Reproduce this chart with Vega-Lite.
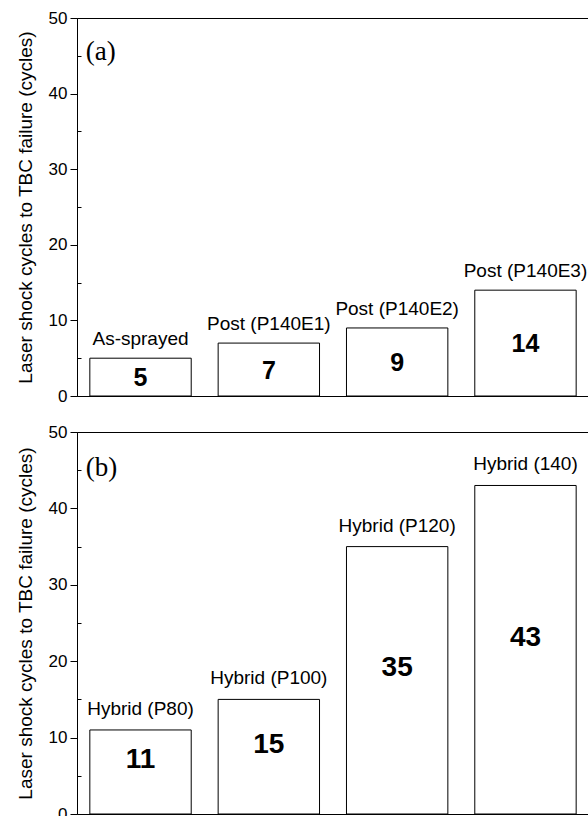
{
  "$schema": "https://vega.github.io/schema/vega-lite/v6.json",
  "padding": {"left": 15, "top": 8, "right": 0, "bottom": 0},
  "background": "white",
  "datasets": {
    "a": [
      {"treatment": "As-sprayed", "cycles": 5},
      {"treatment": "Post (P140E1)", "cycles": 7},
      {"treatment": "Post (P140E2)", "cycles": 9},
      {"treatment": "Post (P140E3)", "cycles": 14}
    ],
    "b": [
      {"treatment": "Hybrid (P80)", "cycles": 11},
      {"treatment": "Hybrid (P100)", "cycles": 15},
      {"treatment": "Hybrid (P120)", "cycles": 35},
      {"treatment": "Hybrid (140)", "cycles": 43}
    ],
    "pa": [{"panel": "(a)"}],
    "pb": [{"panel": "(b)"}]
  },
  "config": {
    "view": {"stroke": "black", "strokeWidth": 1},
    "font": "Liberation Sans",
    "axis": {
      "domainColor": "black",
      "tickColor": "black",
      "labelColor": "black",
      "titleColor": "black",
      "labelFontSize": 17,
      "titleFontSize": 19,
      "titleFontWeight": "normal",
      "grid": false,
      "labelFont": "Liberation Sans",
      "titleFont": "Liberation Sans"
    }
  },
  "spacing": 17,
  "vconcat": [
    {
      "width": 512,
      "height": 378,
      "resolve": {"scale": {"y": "independent"}, "axis": {"y": "independent"}},
      "layer": [
        {
          "data": {"name": "a"},
          "mark": {"type": "bar", "fill": "white", "stroke": "black", "strokeWidth": 1},
          "encoding": {
            "x": {"field": "treatment", "type": "nominal", "sort": null, "axis": null, "scale": {"paddingInner": 0.21, "paddingOuter": 0.1}},
            "y": {
              "field": "cycles", "type": "quantitative", "scale": {"domain": [0, 50]},
              "title": "Laser shock cycles to TBC failure (cycles)",
              "axis": {
                "orient": "left",
                "values": [0, 5, 10, 15, 20, 25, 30, 35, 40, 45, 50],
                "labelExpr": "datum.value % 10 === 0 ? datum.label : ''",
                "tickSize": {"condition": {"test": "datum.value % 10 === 0", "value": 7}, "value": -4},
                "labelPadding": 3,
                "titlePadding": 13
              }
            }
          }
        },
        {
          "data": {"name": "a"},
          "mark": {"type": "text", "baseline": "alphabetic", "dy": -13, "fontSize": 19, "color": "black"},
          "encoding": {
            "x": {"field": "treatment", "type": "nominal", "sort": null, "axis": null},
            "y": {"field": "cycles", "type": "quantitative", "scale": {"domain": [0, 50]}, "axis": null},
            "text": {"field": "treatment"}
          }
        },
        {
          "data": {"name": "a"},
          "mark": {"type": "text", "baseline": "middle", "fontSize": 25, "fontWeight": "bold", "color": "black", "dy": 1},
          "encoding": {
            "x": {"field": "treatment", "type": "nominal", "sort": null, "axis": null},
            "y": {"field": "cycles", "type": "quantitative", "scale": {"domain": [0, 100]}, "axis": null},
            "text": {"field": "cycles"}
          }
        },
        {
          "data": {"name": "pa"},
          "mark": {"type": "text", "font": "Liberation Serif", "fontSize": 27, "align": "left", "baseline": "middle", "color": "black", "dx": -4},
          "encoding": {
            "x": {"datum": "As-sprayed", "type": "nominal", "bandPosition": 0},
            "y": {"datum": 45.5, "type": "quantitative", "scale": {"domain": [0, 50]}, "axis": null},
            "text": {"field": "panel"}
          }
        }
      ]
    },
    {
      "width": 512,
      "height": 382,
      "resolve": {"scale": {"y": "independent"}, "axis": {"y": "independent"}},
      "layer": [
        {
          "data": {"name": "b"},
          "mark": {"type": "bar", "fill": "white", "stroke": "black", "strokeWidth": 1},
          "encoding": {
            "x": {"field": "treatment", "type": "nominal", "sort": null, "axis": null, "scale": {"paddingInner": 0.21, "paddingOuter": 0.1}},
            "y": {
              "field": "cycles", "type": "quantitative", "scale": {"domain": [0, 50]},
              "title": "Laser shock cycles to TBC failure (cycles)",
              "axis": {
                "orient": "left",
                "values": [0, 5, 10, 15, 20, 25, 30, 35, 40, 45, 50],
                "labelExpr": "datum.value % 10 === 0 ? datum.label : ''",
                "tickSize": {"condition": {"test": "datum.value % 10 === 0", "value": 7}, "value": -4},
                "labelPadding": 3,
                "titlePadding": 13
              }
            }
          }
        },
        {
          "data": {"name": "b"},
          "mark": {"type": "text", "baseline": "alphabetic", "dy": -15, "fontSize": 19, "color": "black"},
          "encoding": {
            "x": {"field": "treatment", "type": "nominal", "sort": null, "axis": null},
            "y": {"field": "cycles", "type": "quantitative", "scale": {"domain": [0, 50]}, "axis": null},
            "text": {"field": "treatment"}
          }
        },
        {
          "data": {"name": "b"},
          "mark": {"type": "text", "baseline": "middle", "fontSize": 28, "fontWeight": "bold", "color": "black", "dy": -12},
          "encoding": {
            "x": {"field": "treatment", "type": "nominal", "sort": null, "axis": null},
            "y": {"field": "cycles", "type": "quantitative", "scale": {"domain": [0, 100]}, "axis": null},
            "text": {"field": "cycles"}
          }
        },
        {
          "data": {"name": "pb"},
          "mark": {"type": "text", "font": "Liberation Serif", "fontSize": 27, "align": "left", "baseline": "middle", "color": "black", "dx": -4},
          "encoding": {
            "x": {"datum": "Hybrid (P80)", "type": "nominal", "bandPosition": 0},
            "y": {"datum": 45.3, "type": "quantitative", "scale": {"domain": [0, 50]}, "axis": null},
            "text": {"field": "panel"}
          }
        }
      ]
    }
  ]
}
